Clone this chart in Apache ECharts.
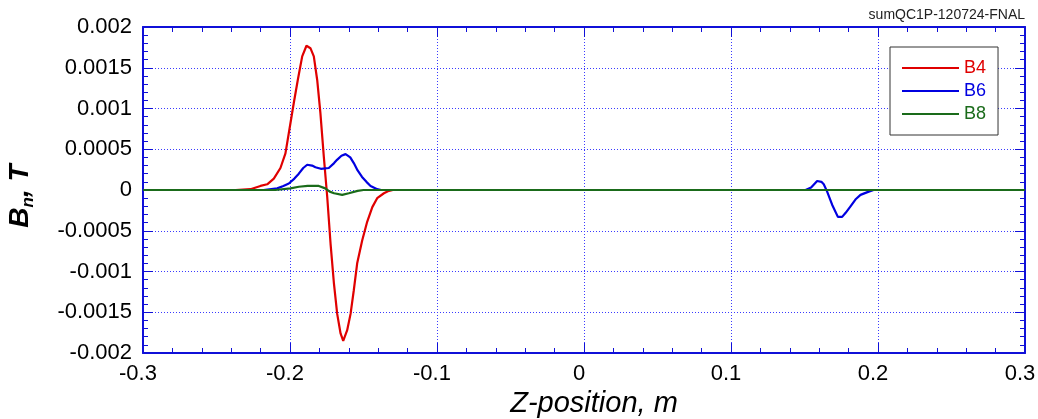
<!DOCTYPE html>
<html>
<head>
<meta charset="utf-8">
<script src="https://cdn.jsdelivr.net/npm/echarts@6/dist/echarts.min.js"></script>
<style>html,body{margin:0;padding:0;background:#fff}#c{width:1038px;height:419px}</style>
</head>
<body>
<div id="c"></div>
<script>
const chartTitle = 'sumQC1P-120724-FNAL';
const seriesNames = ['B4', 'B6', 'B8'];
const xTicks = [-0.3, -0.2, -0.1, 0, 0.1, 0.2, 0.3];
const yTicks = [-0.002, -0.0015, -0.001, -0.0005, 0, 0.0005, 0.001, 0.0015, 0.002];

const zB4 = [-0.237, -0.2269, -0.2201, -0.2155, -0.211, -0.2065, -0.2031, -0.2008, -0.1974, -0.1947, -0.1917, -0.1888, -0.1861, -0.1838, -0.1815, -0.1793, -0.177, -0.1747, -0.1724, -0.1701, -0.1679, -0.1656, -0.1638, -0.1611, -0.1588, -0.1566, -0.1543, -0.1509, -0.1475, -0.144, -0.1407, -0.1361, -0.1327, -0.13];
const vB4 = [0, 0.00001, 0.00005, 0.00007, 0.00014, 0.00027, 0.00045, 0.0007, 0.00107, 0.00135, 0.00164, 0.00177, 0.00174, 0.00164, 0.00135, 0.00094, 0.00041, -0.00008, -0.00066, -0.00115, -0.00152, -0.00176, -0.00185, -0.00172, -0.00152, -0.00123, -0.0009, -0.00062, -0.00039, -0.00021, -0.0001, -0.00004, -0.00001, 0];

const zB6 = [-0.218, -0.2087, -0.2045, -0.2008, -0.197, -0.194, -0.191, -0.1883, -0.185, -0.1827, -0.179, -0.1736, -0.170, -0.168, -0.165, -0.1622, -0.159, -0.1566, -0.154, -0.151, -0.148, -0.1452, -0.1407, -0.138, 0.1507, 0.1545, 0.1586, 0.1615, 0.1631, 0.1654, 0.1688, 0.1727, 0.1756, 0.178, 0.1813, 0.185, 0.1881, 0.1937, 0.197];
const vB6 = [0, 0.00002, 0.00005, 0.00008, 0.00014, 0.0002, 0.00027, 0.00031, 0.0003, 0.00028, 0.00026, 0.00027, 0.00033, 0.00037, 0.00042, 0.00044, 0.0004, 0.00033, 0.00024, 0.00016, 0.0001, 0.00005, 0.00001, 0, 0, 0.00003, 0.00011, 0.0001, 0.00007, -0.00002, -0.00018, -0.00033, -0.00033, -0.00028, -0.0002, -0.00011, -0.00006, -0.00002, 0];

const zB8 = [-0.3, -0.21, -0.1997, -0.194, -0.188, -0.1804, -0.176, -0.173, -0.170, -0.1645, -0.16, -0.154, -0.15, 0.3];
const vB8 = [0, 0, 0.00002, 0.00004, 0.00005, 0.00005, 0.00002, -0.00002, -0.00004, -0.00006, -0.00004, -0.00001, 0, 0];

const colors = ['#e00000', '#0000e0', '#1a6b1a'];
const pair = (z, v) => z.map((x, i) => [x, v[i]]);
const seriesData = [pair(zB4, vB4), pair(zB6, vB6), pair(zB8, vB8)];

const FONT = 'Arial, "Liberation Sans", sans-serif';
const AXIS = '#1010d8';

function fmt(v) { return String(+v.toFixed(4)); }

const baseX = {
  type: 'value', min: xTicks[0], max: xTicks[xTicks.length - 1], interval: 0.1,
  axisLine: { show: true, onZero: false, lineStyle: { color: AXIS, width: 2 } },
  axisTick: { show: true, inside: true, length: 10, lineStyle: { color: AXIS, width: 1 } },
  minorTick: { show: true, splitNumber: 5, length: 5, lineStyle: { color: AXIS, width: 1 } }
};
const baseY = {
  type: 'value', min: yTicks[0], max: yTicks[yTicks.length - 1], interval: 0.0005,
  axisLine: { show: true, onZero: false, lineStyle: { color: AXIS, width: 2 } },
  axisTick: { show: true, inside: true, length: 10, lineStyle: { color: AXIS, width: 1 } },
  minorTick: { show: true, splitNumber: 5, length: 5, lineStyle: { color: AXIS, width: 1 } }
};

const chart = echarts.init(document.getElementById('c'), null, { renderer: 'canvas' });
chart.setOption({
  animation: false,
  backgroundColor: '#fff',
  title: {
    text: chartTitle, right: 8, top: 3,
    textStyle: { fontFamily: FONT, fontSize: 14, fontWeight: 'normal', color: '#222' }
  },
  grid: { left: 143, right: 13, top: 27, bottom: 66, containLabel: false, outerBoundsMode: 'none' },
  legend: {
    orient: 'vertical', left: 890, top: 47,
    padding: [12, 12, 12, 12],
    backgroundColor: '#fff', borderColor: '#333', borderWidth: 1, borderRadius: 0,
    icon: 'rect', itemWidth: 57, itemHeight: 2, itemGap: 5,
    data: seriesNames.map((n, i) => ({ name: n, textStyle: { color: colors[i] } })),
    textStyle: { fontFamily: FONT, fontSize: 18 }
  },
  xAxis: [
    Object.assign({}, baseX, {
      position: 'bottom',
      name: 'Z-position, m', nameLocation: 'middle', nameGap: 35,
      nameTextStyle: { fontFamily: FONT, fontSize: 29, fontStyle: 'italic', color: '#000', padding: [0, 0, 0, 20] },
      axisLabel: { show: true, margin: 10, fontFamily: FONT, fontSize: 22, color: '#000', formatter: fmt, padding: [0, 10, 0, 0] },
      splitLine: { show: true, lineStyle: { color: '#3a3aff', type: [1, 2], width: 1 } }
    }),
    Object.assign({}, baseX, {
      position: 'top', axisLabel: { show: false }, splitLine: { show: false }
    })
  ],
  yAxis: [
    Object.assign({}, baseY, {
      position: 'left',
      name: '{b|B}{s|n}{b|, T}', nameLocation: 'middle', nameGap: 106, nameRotate: 90,
      nameTextStyle: {
        fontFamily: FONT, color: '#000', padding: [0, 12, 0, 0],
        rich: {
          b: { fontFamily: FONT, fontSize: 28, fontWeight: 'bold', fontStyle: 'italic', color: '#000' },
          s: { fontFamily: FONT, fontSize: 17, fontWeight: 'bold', fontStyle: 'italic', color: '#000', padding: [16, 0, 0, 0] }
        }
      },
      axisLabel: { show: true, margin: 11, fontFamily: FONT, fontSize: 22, color: '#000', formatter: fmt },
      splitLine: { show: true, lineStyle: { color: '#3a3aff', type: [1, 2], width: 1 } }
    }),
    Object.assign({}, baseY, {
      position: 'right', axisLabel: { show: false }, splitLine: { show: false }
    })
  ],
  series: seriesNames.map((n, i) => ({
    name: n, type: 'line', data: seriesData[i],
    xAxisIndex: 0, yAxisIndex: 0,
    symbol: 'none', smooth: false,
    lineStyle: { color: colors[i], width: 2.2 },
    itemStyle: { color: colors[i] },
    z: 2 + i
  }))
});
</script>
</body>
</html>
